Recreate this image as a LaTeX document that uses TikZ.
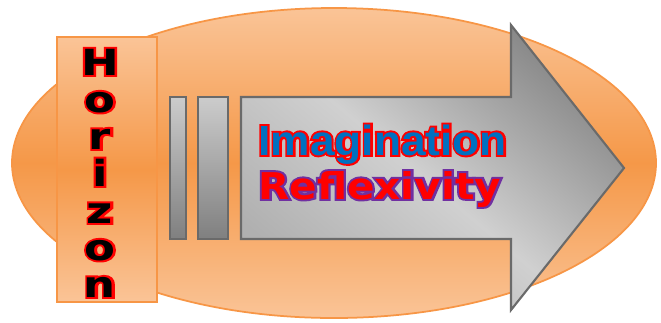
\documentclass[tikz,border=0pt]{standalone}
\usepackage{fontspec}
\usepackage{xcolor}
\usepackage{graphicx}
\usetikzlibrary{positioning}
\newfontfamily\arialfont{Liberation Sans}
\newfontfamily\verdfont{DejaVu Sans}
\definecolor{orangeline}{HTML}{F79646}
\definecolor{orangelight}{HTML}{FAC497}
\definecolor{orangemid}{HTML}{F59848}
\definecolor{barline}{HTML}{6A6A6A}
\definecolor{arrowdark}{HTML}{868686}
\definecolor{arrowlight}{HTML}{D0D0D0}
\definecolor{arrowlow}{HTML}{B0B0B0}
\definecolor{imgblue}{HTML}{0070C0}
\definecolor{reflpurple}{HTML}{7030A0}
\pgfdeclareverticalshading{arrowshade}{100bp}{color(0bp)=(arrowlow); color(25bp)=(arrowlow);
  color(48bp)=(arrowlight); color(75bp)=(arrowdark); color(100bp)=(arrowdark)}
% outlined text: #1 stroke rgb, #2 outline colour, #3 fill colour, #4 text
\newcommand\outlined[4]{\rlap{\color{#2}\special{pdf:literal direct #1 RG 1 Tr 2.2 w}#4\special{pdf:literal direct 0 Tr}}{\color{#3}#4}}
\tikzset{
  halo/.style={draw=orangeline, line width=1pt, top color=orangelight,
               bottom color=orangelight, middle color=orangemid},
  band/.style={draw=orangeline, line width=1.2pt, top color=orangelight,
               bottom color=orangelight, middle color=orangemid},
  bar/.style={draw=barline, line width=1.2pt, top color=gray!40, bottom color=gray},
  bigarrow/.style={draw=barline, line width=1.2pt, shade, shading=arrowshade, shading angle=-40},
  letter/.style={anchor=base, inner sep=0pt, font=\verdfont\bfseries\fontsize{20.5}{21}\selectfont},
  word/.style={anchor=base west, inner sep=0pt}
}
\begin{document}
\begin{tikzpicture}[x=0.02cm, y=-0.02cm]
  \useasboundingbox (0,0) rectangle (661,322);
  \draw[halo] (334,163) ellipse [x radius=322, y radius=155];
  \draw[band] (57,37) rectangle (157,302);
  \draw[bar] (170,97) rectangle (186,239);
  \draw[bar] (198,97) rectangle (228,239);
  \draw[bigarrow] (241,97) -- (511,97) -- (511,25) -- (624,168)
    -- (511,310) -- (511,239) -- (241,239) -- cycle;
  % vertical word, one letter per line
  \foreach \ch [count=\k from 0] in {H,o,r,i,z,o,n}
    \node[letter] (hor\k) at (100,75+37*\k) {\scalebox{1.25}[1]{\outlined{1 0 0}{red}{black}{\ch}}};
  \node[word, font=\arialfont\bfseries\fontsize{24}{24}\selectfont] (imag) at (258,155)
    {\scalebox{1.05}[1]{\outlined{1 0 0}{red}{imgblue}{Imagination}}};
  \node[word, font=\verdfont\bfseries\fontsize{21}{21}\selectfont] (refl) at (258,199)
    {\scalebox{1.1}[1]{\outlined{0.44 0.19 0.63}{reflpurple}{red}{Reflexivity}}};
\end{tikzpicture}
\end{document}
